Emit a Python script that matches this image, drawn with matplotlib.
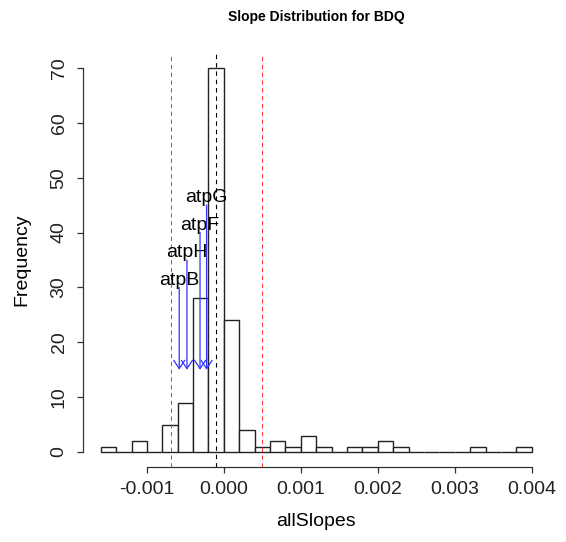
import matplotlib.pyplot as plt

plt.rcParams['font.family'] = ['Liberation Sans', 'DejaVu Sans']

# histogram of slopes: bin edges every 0.0002 from -0.0016 to 0.004
bin_start = -0.0016
bin_width = 0.0002
counts = [1, 0, 2, 0, 5, 9, 28, 70, 24, 4, 1, 2, 1, 3, 1, 0, 1, 1, 2, 1,
          0, 0, 0, 0, 1, 0, 0, 1]

# cutoffs (red) and centre (black)
cutoffs = [-0.00069, 0.00049]
centre = -0.0001

# marked genes: x position and height of arrow start
genes = ['atpB', 'atpH', 'atpF', 'atpG']
gene_x = [-0.00058, -0.00048, -0.00031, -0.000225]
gene_top = [30, 35, 40, 45]
arrow_end = 15

x_ticks = [-0.001, 0.0, 0.001, 0.002, 0.003, 0.004]
x_labels = ['-0.001', '0.000', '0.001', '0.002', '0.003', '0.004']
y_ticks = [0, 10, 20, 30, 40, 50, 60, 70]

fig = plt.figure(figsize=(5.66, 5.42), dpi=100)
ax = fig.add_axes([0.1475, 0.1376, 0.8225, 0.7654])

lefts = [bin_start + i * bin_width for i in range(len(counts))]
ax.bar(lefts, counts, width=bin_width, align='edge', facecolor='white',
       edgecolor='#222222', linewidth=1.0)

for c in cutoffs:
    ax.axvline(c, color='#ff3333', linestyle=(0, (4, 3.5)), linewidth=0.75)
ax.axvline(centre, color='black', linestyle=(0, (4, 3.5)), linewidth=0.8)

for g, x, top in zip(genes, gene_x, gene_top):
    ax.annotate('', xy=(x, arrow_end), xytext=(x, top),
                arrowprops=dict(arrowstyle='->, head_length=0.6, head_width=0.4',
                                color='#3333ff', lw=0.9, shrinkA=0, shrinkB=0,
                                mutation_scale=10))
    ax.text(x, top + 1.3, g, ha='center', va='center', fontsize=14)

n = len(counts)
xmin = bin_start
xmax = bin_start + n * bin_width
pad_x = 0.04 * (xmax - xmin)
ax.set_xlim(xmin - pad_x, xmax + pad_x)
ax.set_ylim(-0.04 * 70, 70 * 1.04)

for side in ['top', 'right']:
    ax.spines[side].set_visible(False)
ax.spines['left'].set_bounds(0, 70)
ax.spines['bottom'].set_bounds(-0.001, 0.004)
for side in ['left', 'bottom']:
    ax.spines[side].set_color('#333333')
    ax.spines[side].set_linewidth(0.9)

ax.set_xticks(x_ticks)
ax.set_xticklabels(x_labels)
ax.set_yticks(y_ticks)
ax.set_yticklabels([str(v) for v in y_ticks], rotation=90, va='center')
ax.tick_params(axis='both', length=4.5, width=0.9, color='#333333',
               labelsize=14, labelcolor='#222222')
ax.tick_params(axis='x', pad=5)
ax.tick_params(axis='y', pad=7)

fig.text(0.5585, 0.969, 'Slope Distribution for BDQ', ha='center', va='center',
         fontsize=10, fontweight='bold')
fig.text(0.5585, 0.037, 'allSlopes', ha='center', va='center', fontsize=14)
fig.text(0.039, 0.52, 'Frequency', ha='center', va='center', rotation=90,
         fontsize=14)

fig.savefig('out.png', dpi=100)
